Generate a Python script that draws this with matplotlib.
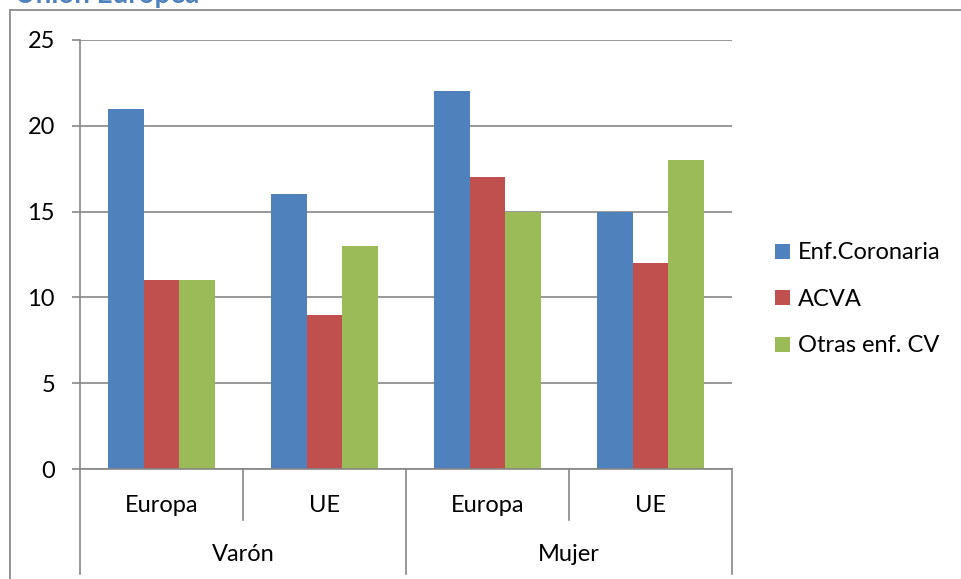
import matplotlib
matplotlib.use("Agg")
import matplotlib.pyplot as plt
from matplotlib.lines import Line2D
import matplotlib.transforms as mtransforms
import numpy as np

plt.rcParams['font.family'] = ['Lato', 'DejaVu Sans']

# Data
subcats = ["Europa", "UE", "Europa", "UE"]
groups = ["Varón", "Mujer"]
series_names = ["Enf.Coronaria", "ACVA", "Otras enf. CV"]
enf_coronaria = [21, 16, 22, 15]
acva = [11, 9, 17, 12]
otras_cv = [11, 13, 15, 18]
yticks = [0, 5, 10, 15, 20, 25]
title = "Unión Europea"

colors = ["#4F81BD", "#C0504D", "#9BBB59"]
grid_col = "#868686"

W, H = 962, 579
fig = plt.figure(figsize=(W / 100, H / 100), dpi=100)

def fx(px):
    return px / W

def fy(py):
    return 1 - py / H

# Chart area frame (left and top edges)
fig.add_artist(Line2D([fx(10), fx(10)], [fy(10), fy(H + 5)], color="#8c8c8c", lw=1.3))
fig.add_artist(Line2D([fx(10), fx(W + 5)], [fy(10), fy(10)], color="#8c8c8c", lw=1.3))

# Title (partly above the canvas)
fig.text(fx(15), fy(3), title, color="#4F81BD", fontsize=20, fontweight="bold",
         ha="left", va="baseline")

left, right, top, zero = 80, 732, 40, 469
ax = fig.add_axes([fx(left), fy(zero), fx(right - left), (zero - top) / H])

x = np.arange(len(subcats))
bw = 0.22
for i, (vals, name) in enumerate(zip([enf_coronaria, acva, otras_cv], series_names)):
    ax.bar(x + (i - 1) * bw, vals, width=bw, color=colors[i], label=name,
           zorder=3, linewidth=0)

fs = 17
ax.set_xlim(-0.5, len(subcats) - 0.5)
ax.set_ylim(0, 25)
ax.set_yticks(yticks)
ax.set_yticklabels([str(t) for t in yticks], fontsize=fs)
ax.yaxis.grid(True, color=grid_col, lw=1.2, zorder=0)
ax.tick_params(axis="y", length=6, width=1.2, color=grid_col, pad=12)
ax.set_xticks([])
for s in ["top", "right", "bottom"]:
    ax.spines[s].set_visible(False)
ax.spines["left"].set_color(grid_col)
ax.spines["left"].set_linewidth(1.2)
ax.axhline(0, color=grid_col, lw=1.2, zorder=4, clip_on=False)

# Two-level category axis
trans = mtransforms.blended_transform_factory(ax.transData, ax.transAxes)
short_end = -0.119
long_end = -0.245
for b in [0.5, 2.5]:
    ax.add_line(Line2D([b, b], [0, short_end], transform=trans, color=grid_col,
                       lw=1.2, clip_on=False))
for b in [-0.5, 1.5, 3.5]:
    ax.add_line(Line2D([b, b], [0, long_end], transform=trans, color=grid_col,
                       lw=1.2, clip_on=False))
for xi, lab in zip(x, subcats):
    ax.text(xi, -0.084, lab, transform=trans, ha="center", va="center", fontsize=fs)
for gi, g in enumerate(groups):
    ax.text(gi * 2 + 0.5, -0.2, g, transform=trans, ha="center", va="center", fontsize=fs)

leg = fig.legend(loc="upper left", bbox_to_anchor=(fx(766), fy(233)), frameon=False,
                 fontsize=fs, handlelength=0.6, handleheight=0.6, handletextpad=0.35,
                 labelspacing=1.08, borderaxespad=0)

fig.savefig("out.png", dpi=100)
